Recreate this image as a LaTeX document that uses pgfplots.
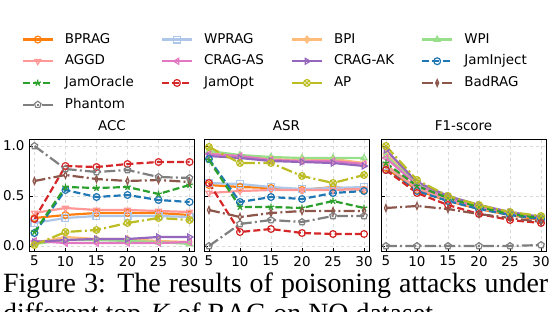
\documentclass[border=0pt]{standalone}
\usepackage{pgfplots}
\usepackage{pgfplotstable}
\pgfplotsset{compat=1.18}
\usepackage{fontspec}
\setmainfont{DejaVu Sans}
\newfontfamily\capfont{Liberation Serif}
\usetikzlibrary{plotmarks}

\definecolor{cBPRAG}{RGB}{255,127,14}
\definecolor{cWPRAG}{RGB}{174,199,232}
\definecolor{cBPI}{RGB}{255,187,120}
\definecolor{cWPI}{RGB}{152,223,138}
\definecolor{cAGGD}{RGB}{255,152,150}
\definecolor{cCRAGAS}{RGB}{227,119,194}
\definecolor{cCRAGAK}{RGB}{148,103,189}
\definecolor{cJamInject}{RGB}{31,119,180}
\definecolor{cJamOracle}{RGB}{44,160,44}
\definecolor{cJamOpt}{RGB}{214,39,40}
\definecolor{cAP}{RGB}{188,189,34}
\definecolor{cBadRAG}{RGB}{140,86,75}
\definecolor{cPhantom}{RGB}{127,127,127}

\pgfplotstableread{
K BPRAG WPRAG BPI WPI AGGD CRAGAS CRAGAK JamInject JamOracle JamOpt AP BadRAG Phantom
5  0.28 0.23 0.03 0.02 0.33 0.05 0.04 0.13 0.14 0.27 0.01 0.65 1.00
10 0.31 0.28 0.09 0.06 0.38 0.03 0.06 0.56 0.59 0.80 0.14 0.71 0.77
15 0.33 0.30 0.07 0.06 0.36 0.03 0.07 0.49 0.58 0.79 0.16 0.67 0.74
20 0.33 0.30 0.07 0.05 0.36 0.03 0.07 0.51 0.59 0.82 0.23 0.65 0.76
25 0.33 0.30 0.05 0.04 0.35 0.03 0.09 0.46 0.52 0.84 0.28 0.66 0.69
30 0.31 0.29 0.04 0.02 0.34 0.04 0.09 0.44 0.61 0.84 0.26 0.64 0.68
}\accdata

\pgfplotstableread{
K BPRAG WPRAG BPI WPI AGGD CRAGAS CRAGAK JamInject JamOracle JamOpt AP BadRAG Phantom
5  0.61 0.63 0.93 0.95 0.53 0.92 0.90 0.87 0.86 0.63 0.99 0.36 0.00
10 0.59 0.62 0.90 0.91 0.55 0.90 0.88 0.44 0.39 0.14 0.83 0.29 0.22
15 0.58 0.59 0.87 0.89 0.56 0.86 0.85 0.49 0.39 0.17 0.83 0.33 0.26
20 0.56 0.57 0.86 0.88 0.56 0.85 0.84 0.47 0.38 0.13 0.70 0.35 0.24
25 0.59 0.58 0.87 0.88 0.56 0.85 0.83 0.53 0.45 0.12 0.63 0.35 0.30
30 0.56 0.59 0.83 0.88 0.57 0.82 0.80 0.55 0.38 0.12 0.71 0.35 0.30
}\asrdata

\pgfplotstableread{
K BPRAG WPRAG BPI WPI AGGD CRAGAS CRAGAK JamInject JamOracle JamOpt AP BadRAG Phantom
5  0.78 0.80 0.92 0.90 0.81 0.88 0.96 0.76 0.83 0.76 1.00 0.38 0.00
10 0.56 0.58 0.63 0.62 0.58 0.61 0.64 0.55 0.60 0.53 0.66 0.40 0.00
15 0.45 0.46 0.49 0.49 0.46 0.48 0.50 0.45 0.48 0.41 0.50 0.37 0.00
20 0.37 0.38 0.40 0.40 0.38 0.39 0.41 0.37 0.39 0.32 0.41 0.32 0.00
25 0.31 0.32 0.33 0.33 0.32 0.33 0.34 0.31 0.32 0.26 0.34 0.28 0.00
30 0.26 0.28 0.29 0.29 0.27 0.28 0.29 0.27 0.28 0.23 0.30 0.24 0.01
}\fonedata

\pgfplotsset{
  sbase/.style={line width=2.2bp, mark size=3.4bp, mark options={solid, line width=1.2bp, fill=none}},
  dsh/.style={dash pattern=on 7bp off 3.2bp},
  ddt/.style={dash pattern=on 11bp off 3.2bp on 2bp off 3.2bp},
  sBPRAG/.style={sbase, color=cBPRAG, solid, mark=o},
  sWPRAG/.style={sbase, color=cWPRAG, solid, mark=square},
  sBPI/.style={sbase, color=cBPI, solid, mark=diamond},
  sWPI/.style={sbase, color=cWPI, solid, mark=triangle},
  sAGGD/.style={sbase, color=cAGGD, solid, mark=triangle, mark options={solid, line width=1.2bp, fill=none, rotate=180}},
  sCRAGAS/.style={sbase, color=cCRAGAS, solid, mark=triangle, mark options={solid, line width=1.2bp, fill=none, rotate=90}},
  sCRAGAK/.style={sbase, color=cCRAGAK, solid, mark=triangle, mark options={solid, line width=1.2bp, fill=none, rotate=-90}},
  sJamInject/.style={sbase, color=cJamInject, dsh, mark=o},
  sJamOracle/.style={sbase, color=cJamOracle, dsh, mark=star},
  sJamOpt/.style={sbase, color=cJamOpt, dsh, mark=o},
  sAP/.style={sbase, color=cAP, ddt, mark=otimes},
  sBadRAG/.style={sbase, color=cBadRAG, ddt, mark=diamond, mark options={solid, line width=1.2bp, fill=none, xscale=0.6}},
  sPhantom/.style={sbase, color=cPhantom, ddt, mark=pentagon},
  myax/.style={
    scale only axis, width=165bp, height=112bp,
    xmin=4.2, xmax=30.8, ymin=-0.05, ymax=1.07,
    xtick={5,10,15,20,25,30}, xticklabels={5,10,15,20,25,30},
    ytick={0,0.5,1},
    tick align=inside, xtick pos=left, ytick pos=left,
    major tick length=3.5bp,
    every tick/.style={black, line width=0.8bp},
    axis line style={black, line width=0.9bp},
    grid=major, major grid style={dashed, gray!30, line width=0.6bp},
    tick label style={font=\fontsize{13.5}{16}\selectfont},
    xticklabel style={yshift=-1.5bp},
    yticklabel style={xshift=-1.5bp},
    title style={font=\fontsize{13.5}{16}\selectfont, yshift=-1.5bp},
    legend image code/.code={\draw[mark repeat=2,mark phase=2,##1] plot coordinates {(0bp,0bp) (15bp,0bp) (30bp,0bp)};},
  },
}

\newcommand\plotall[1]{%
  \addplot[sBPRAG] table[x=K,y=BPRAG]{#1};
  \addplot[sWPRAG] table[x=K,y=WPRAG]{#1};
  \addplot[sBPI] table[x=K,y=BPI]{#1};
  \addplot[sWPI] table[x=K,y=WPI]{#1};
  \addplot[sAGGD] table[x=K,y=AGGD]{#1};
  \addplot[sCRAGAS] table[x=K,y=CRAGAS]{#1};
  \addplot[sCRAGAK] table[x=K,y=CRAGAK]{#1};
  \addplot[sJamInject] table[x=K,y=JamInject]{#1};
  \addplot[sJamOracle] table[x=K,y=JamOracle]{#1};
  \addplot[sJamOpt] table[x=K,y=JamOpt]{#1};
  \addplot[sAP] table[x=K,y=AP]{#1};
  \addplot[sBadRAG] table[x=K,y=BadRAG]{#1};
  \addplot[sPhantom] table[x=K,y=Phantom]{#1};
}

\begin{document}
\begin{tikzpicture}
\useasboundingbox (0,0) rectangle (550bp,-312bp);
\begin{axis}[myax, at={(29.5bp,-139bp)}, anchor=north west, title={ACC},
  yticklabels={0.0,0.5,1.0},
  legend columns=4, legend cell align=left,
  legend style={at={(-0.0473,1.955)}, anchor=north west, draw=none, fill=none,
    inner sep=0pt, outer sep=0pt,
    font=\fontsize{13.5}{16}\selectfont,
    nodes={inner xsep=4.5bp, inner ysep=1bp, text height=10bp, text depth=3bp},
    row sep=6.7bp,
    /tikz/every odd column/.append style={column sep=6.5bp},
    /tikz/every even column/.append style={column sep=22.4bp}},
]
\plotall{\accdata}
\legend{BPRAG,WPRAG,BPI,WPI,AGGD,CRAG-AS,CRAG-AK,JamInject,JamOracle,JamOpt,AP,BadRAG,Phantom}
\end{axis}
\begin{axis}[myax, at={(204bp,-139bp)}, anchor=north west, title={ASR}, yticklabels={}]
\plotall{\asrdata}
\end{axis}
\begin{axis}[myax, at={(381bp,-139bp)}, anchor=north west, title={F1-score}, yticklabels={}]
\plotall{\fonedata}
\end{axis}
\node[anchor=base west, inner sep=0pt, font=\capfont\fontsize{28}{32}\selectfont] at (3bp,-292bp) {\makebox[545bp][s]{Figure 3: The results of poisoning attacks under}};
\node[anchor=base west, inner sep=0pt, font=\capfont\fontsize{28}{32}\selectfont] at (3bp,-322.5bp) {different top-\textit{K} of RAG on NQ dataset.};
\end{tikzpicture}
\end{document}
